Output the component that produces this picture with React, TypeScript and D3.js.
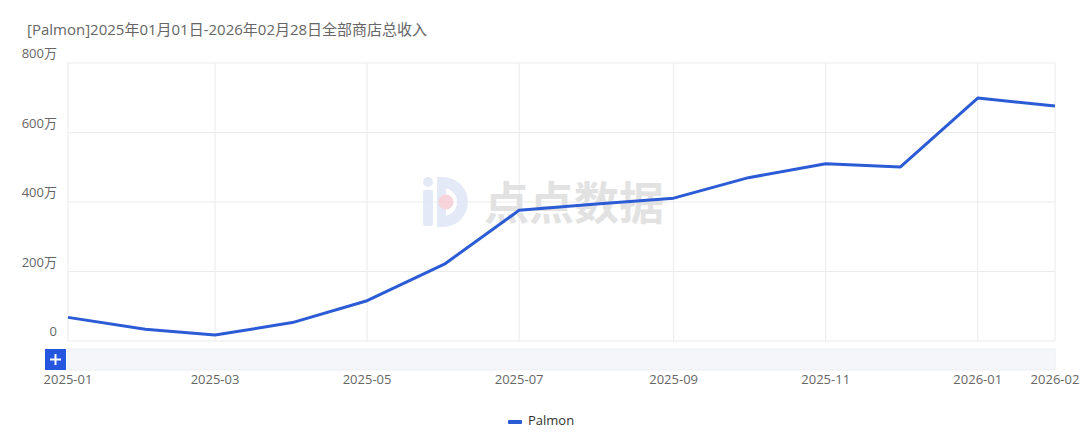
import React from "react";
import * as d3 from "d3";

const months = [
  "2025-01", "2025-02", "2025-03", "2025-04", "2025-05", "2025-06", "2025-07",
  "2025-08", "2025-09", "2025-10", "2025-11", "2025-12", "2026-01", "2026-02",
];
const revenue = [68, 34, 17, 53, 116, 221, 376, 394, 411, 470, 510, 501, 699, 676];
const yTicks = [0, 200, 400, 600, 800];
const xTickLabels = ["2025-01", "2025-03", "2025-05", "2025-07", "2025-09", "2025-11", "2026-01", "2026-02"];
const seriesName = "Palmon";
const title = "[Palmon]2025年01月01日-2026年02月28日全部商店总收入";

const W = 1080;
const H = 440;
const left = 68;
const right = 1055;
const top = 63;
const bottom = 341;
const FONT = "'Open Sans', 'Noto Sans CJK SC', sans-serif";
const LINE = "#2b5bd5";

const parse = d3.timeParse("%Y-%m");

export default function App() {
  const x = d3.scaleTime().domain([parse("2025-01")!, parse("2026-02")!]).range([left, right]);
  const y = d3.scaleLinear().domain([0, 800]).range([bottom, top]);
  const pts = months.map((m, i) => [x(parse(m)!), y(revenue[i])] as [number, number]);
  const line = d3.line();
  const yLabel = (v: number) => (v === 0 ? "0" : `${v}万`);

  return (
    <svg
      width={W}
      height={H}
      style={{ position: "absolute", left: 0, top: 0, background: "#fff" }}
      fontFamily={FONT}
    >
      <text x={27} y={35} fontSize={15} fill="#666">{title}</text>

      {/* grid */}
      {yTicks.map((t) => (
        <line key={t} x1={left} x2={right} y1={y(t)} y2={y(t)} stroke="#ebebeb" strokeWidth={1} />
      ))}
      {xTickLabels.map((m) => (
        <line key={m} x1={x(parse(m)!)} x2={x(parse(m)!)} y1={top} y2={bottom} stroke="#ebebeb" strokeWidth={1} />
      ))}

      {/* y labels */}
      {yTicks.map((t) => (
        <text key={t} x={57} y={y(t) - 8} fontSize={13} fill="#666" textAnchor="end" dominantBaseline="middle">
          {yLabel(t)}
        </text>
      ))}

      {/* watermark */}
      <g opacity={0.85}>
        <rect x={423} y={177} width={10} height={10} rx={5} fill="#dfe6f6" />
        <rect x={423} y={190} width={10} height={36} rx={2} fill="#dfe6f6" />
        <path d="M437 177 H443 A25 25 0 0 1 443 227 H437 Z M446 188 V216 H443 A14 14 0 0 0 443 188 Z" fill="#dfe6f6" fillRule="evenodd" />
        <circle cx={446} cy={202} r={7.5} fill="#f6cdd3" />
        <text x={484} y={220} fontSize={45} fontWeight={700} fill="#dedede" fontFamily="'Noto Sans CJK SC', sans-serif">点点数据</text>
      </g>

      {/* line */}
      <path d={line(pts) || ""} fill="none" stroke={LINE} strokeWidth={3} strokeLinejoin="round" />

      {/* data zoom */}
      <rect x={left} y={349} width={right - left} height={21} fill="#f5f6f9" stroke="#eceef2" strokeWidth={1} />
      <rect x={45} y={349} width={21} height={21} fill="#2456e0" />
      <line x1={50} x2={61} y1={359.5} y2={359.5} stroke="#fff" strokeWidth={2} />
      <line x1={55.5} x2={55.5} y1={354} y2={365} stroke="#fff" strokeWidth={2} />

      {/* x labels */}
      {xTickLabels.map((m) => (
        <text key={m} x={x(parse(m)!)} y={381} fontSize={13} fill="#666" textAnchor="middle" dominantBaseline="middle">
          {m}
        </text>
      ))}

      {/* legend */}
      <rect x={508} y={420} width={14} height={4} rx={1} fill={LINE} />
      <text x={528} y={422} fontSize={13} fill="#333" dominantBaseline="middle">{seriesName}</text>
    </svg>
  );
}
